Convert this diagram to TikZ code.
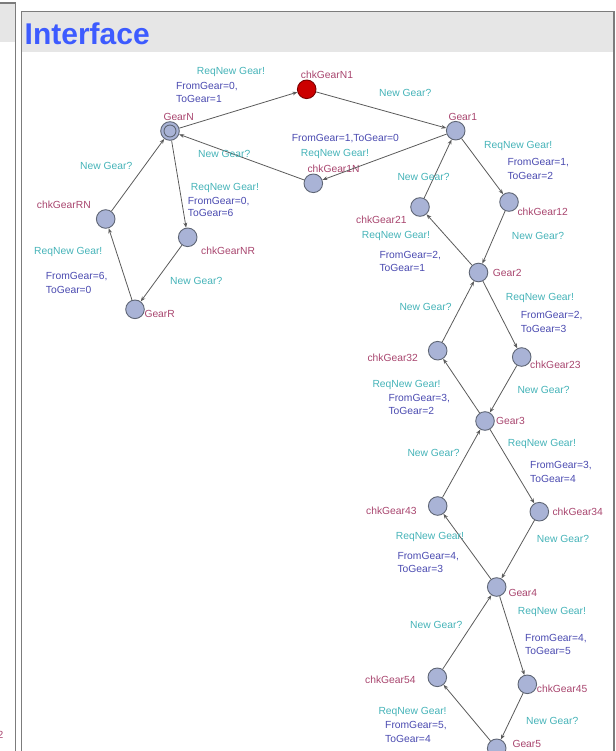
\documentclass[tikz,border=0pt]{standalone}
\usepackage{fontspec}
\setmainfont{Liberation Sans}
\usetikzlibrary{arrows.meta}

\definecolor{syncc}{HTML}{45B3B8}
\definecolor{assignc}{HTML}{4A4AB0}
\definecolor{namec}{HTML}{A8456E}
\definecolor{locfill}{HTML}{A9B3D6}
\definecolor{locdraw}{HTML}{5F6675}
\definecolor{hotfill}{HTML}{CC0000}
\definecolor{hotdraw}{HTML}{7A0000}
\definecolor{edgec}{HTML}{5A5A5A}
\definecolor{titlec}{HTML}{3D5BFF}
\definecolor{bandc}{HTML}{E6E6E6}
\definecolor{framec}{HTML}{7C7C7C}

\tikzset{
  loc/.style={circle, draw=locdraw, fill=locfill, line width=0.9pt,
              minimum size=18.6pt, inner sep=0pt},
  hotloc/.style={loc, draw=hotdraw, fill=hotfill},
  lblfont/.style={font=\fontsize{10.3}{12}\selectfont, inner sep=0pt, anchor=base west},
  synclbl/.style={lblfont, text=syncc},
  assignlbl/.style={lblfont, text=assignc},
  namelbl/.style={lblfont, text=namec},
  edge/.style={draw=edgec, line width=0.8pt, -{Stealth[length=5pt,width=3.8pt]}},
}

\begin{document}
\begin{tikzpicture}[x=1pt, y=-1pt]
\useasboundingbox (0,0) rectangle (615,751);

% panel frames and title band
\fill[bandc] (0,3) rectangle (15.5,42);
\draw[framec, line width=1.5pt] (0,3) -- (15.5,3) -- (15.5,760);
\fill[bandc] (21.5,11.5) rectangle (614,52);
\draw[framec, line width=1.5pt] (21.5,760) -- (21.5,11.5) -- (614,11.5) -- (614,760);
\node[font=\fontsize{30}{34}\selectfont\bfseries, text=titlec, inner sep=0pt,
      anchor=base west] (title) at (24.5,45) {Interface};
\node[namelbl, anchor=base east] (pagenum) at (3.5,738) {2};

% locations
\node[loc] (GearN) at (170,131) {};
\node[circle, draw=locdraw, line width=0.9pt, minimum size=12pt, inner sep=0pt]
  (GearNinit) at (GearN.center) {};
\node[hotloc] (chkGearN1) at (306.7,89.3) {};
\node[loc] (Gear1) at (455.7,130.7) {};
\node[loc] (chkGear1N) at (313.3,183.3) {};
\node[loc] (chkGearRN) at (105.7,219) {};
\node[loc] (chkGearNR) at (187.7,237.3) {};
\node[loc] (GearR) at (135,309.3) {};
\node[loc] (chkGear21) at (420,207) {};
\node[loc] (chkGear12) at (509,202) {};
\node[loc] (Gear2) at (478.5,272.5) {};
\node[loc] (chkGear32) at (437.7,350.7) {};
\node[loc] (chkGear23) at (521.7,357) {};
\node[loc] (Gear3) at (485,421) {};
\node[loc] (chkGear43) at (437.7,506) {};
\node[loc] (chkGear34) at (539.3,511.7) {};
\node[loc] (Gear4) at (496.7,587) {};
\node[loc] (chkGear54) at (437.3,677.3) {};
\node[loc] (chkGear45) at (527.3,684.3) {};
\node[loc] (Gear5) at (496.7,748.3) {};

% location names
\node[namelbl] (nGearN) at (163.3,120.4) {GearN};
\node[namelbl] (nchkGearN1) at (300.7,78.7) {chkGearN1};
\node[namelbl] (nGear1) at (448.3,120.4) {Gear1};
\node[namelbl] (nchkGear1N) at (307.3,172.7) {chkGear1N};
\node[namelbl] (nchkGearRN) at (36.7,208.7) {chkGearRN};
\node[namelbl] (nchkGearNR) at (201,254.7) {chkGearNR};
\node[namelbl] (nGearR) at (144.3,317.7) {GearR};
\node[namelbl] (nchkGear21) at (356,223) {chkGear21};
\node[namelbl] (nchkGear12) at (517.3,215.4) {chkGear12};
\node[namelbl] (nGear2) at (492.7,276.4) {Gear2};
\node[namelbl] (nchkGear32) at (367.3,361.4) {chkGear32};
\node[namelbl] (nchkGear23) at (530,368.7) {chkGear23};
\node[namelbl] (nGear3) at (496,424.7) {Gear3};
\node[namelbl] (nchkGear43) at (366,514) {chkGear43};
\node[namelbl] (nchkGear34) at (552.3,515.4) {chkGear34};
\node[namelbl] (nGear4) at (508.3,596) {Gear4};
\node[namelbl] (nchkGear54) at (365,683) {chkGear54};
\node[namelbl] (nchkGear45) at (536.7,692.7) {chkGear45};
\node[namelbl] (nGear5) at (512.3,747) {Gear5};

% transitions
\draw[edge] (GearN) -- (chkGearN1);
\draw[edge] (chkGearN1) -- (Gear1);
\draw[edge] (Gear1) -- (chkGear1N);
\draw[edge] (chkGear1N) -- (GearN);
\draw[edge] (GearN) -- (chkGearNR);
\draw[edge] (chkGearNR) -- (GearR);
\draw[edge] (GearR) -- (chkGearRN);
\draw[edge] (chkGearRN) -- (GearN);

\draw[edge] (Gear1) -- (chkGear12);
\draw[edge] (chkGear12) -- (Gear2);
\draw[edge] (Gear2) -- (chkGear21);
\draw[edge] (chkGear21) -- (Gear1);

\draw[edge] (Gear2) -- (chkGear23);
\draw[edge] (chkGear23) -- (Gear3);
\draw[edge] (Gear3) -- (chkGear32);
\draw[edge] (chkGear32) -- (Gear2);

\draw[edge] (Gear3) -- (chkGear34);
\draw[edge] (chkGear34) -- (Gear4);
\draw[edge] (Gear4) -- (chkGear43);
\draw[edge] (chkGear43) -- (Gear3);

\draw[edge] (Gear4) -- (chkGear45);
\draw[edge] (chkGear45) -- (Gear5);
\draw[edge] (Gear5) -- (chkGear54);
\draw[edge] (chkGear54) -- (Gear4);

% transition labels: GearN <-> Gear1
\node[synclbl] (sN1) at (196.7,74.4) {ReqNew Gear!};
\node[assignlbl] (aN1a) at (176,89.4) {FromGear=0,};
\node[assignlbl] (aN1b) at (176,103) {ToGear=1};
\node[synclbl] (sN1g) at (379,96.4) {New Gear?};
\node[assignlbl] (a1N) at (291.7,141.4) {FromGear=1,ToGear=0};
\node[synclbl] (s1N) at (300.7,157) {ReqNew Gear!};
\node[synclbl] (s1Ng) at (198,157.7) {New Gear?};

% transition labels: GearN <-> GearR
\node[synclbl] (sRNg) at (80,169.7) {New Gear?};
\node[synclbl] (sNR) at (190.7,190.4) {ReqNew Gear!};
\node[assignlbl] (aNRa) at (187.7,204.4) {FromGear=0,};
\node[assignlbl] (aNRb) at (187.7,217) {ToGear=6};
\node[synclbl] (sRN) at (34,254.7) {ReqNew Gear!};
\node[assignlbl] (aRNa) at (45.7,279.4) {FromGear=6,};
\node[assignlbl] (aRNb) at (45.7,293) {ToGear=0};
\node[synclbl] (sNRg) at (170,284.4) {New Gear?};

% transition labels: Gear1 <-> Gear2
\node[synclbl] (s12) at (484,148.7) {ReqNew Gear!};
\node[assignlbl] (a12a) at (507.3,166) {FromGear=1,};
\node[assignlbl] (a12b) at (507.3,179.4) {ToGear=2};
\node[synclbl] (s12g) at (511.7,239.7) {New Gear?};
\node[synclbl] (s21) at (361.7,238.7) {ReqNew Gear!};
\node[assignlbl] (a21a) at (379.3,258.7) {FromGear=2,};
\node[assignlbl] (a21b) at (379.3,271.4) {ToGear=1};
\node[synclbl] (s21g) at (397.3,181) {New Gear?};

% transition labels: Gear2 <-> Gear3
\node[synclbl] (s23) at (505.7,300.4) {ReqNew Gear!};
\node[assignlbl] (a23a) at (520.7,318) {FromGear=2,};
\node[assignlbl] (a23b) at (520.7,332.7) {ToGear=3};
\node[synclbl] (s23g) at (517.3,393.7) {New Gear?};
\node[synclbl] (s32) at (372.3,387) {ReqNew Gear!};
\node[assignlbl] (a32a) at (388.3,401.4) {FromGear=3,};
\node[assignlbl] (a32b) at (388.3,414.7) {ToGear=2};
\node[synclbl] (s32g) at (399.3,310.4) {New Gear?};

% transition labels: Gear3 <-> Gear4
\node[synclbl] (s34) at (507.7,446) {ReqNew Gear!};
\node[assignlbl] (a34a) at (530,468.7) {FromGear=3,};
\node[assignlbl] (a34b) at (530,482) {ToGear=4};
\node[synclbl] (s34g) at (536.7,542) {New Gear?};
\node[synclbl] (s43) at (395.7,539.7) {ReqNew Gear!};
\node[assignlbl] (a43a) at (397.3,559.7) {FromGear=4,};
\node[assignlbl] (a43b) at (397.3,572) {ToGear=3};
\node[synclbl] (s43g) at (407.3,456) {New Gear?};

% transition labels: Gear4 <-> Gear5
\node[synclbl] (s45) at (517.7,614.4) {ReqNew Gear!};
\node[assignlbl] (a45a) at (525,641) {FromGear=4,};
\node[assignlbl] (a45b) at (525,654.4) {ToGear=5};
\node[synclbl] (s45g) at (526,724.7) {New Gear?};
\node[synclbl] (s54) at (378.3,714.4) {ReqNew Gear!};
\node[assignlbl] (a54a) at (385,728.7) {FromGear=5,};
\node[assignlbl] (a54b) at (385,742) {ToGear=4};
\node[synclbl] (s54g) at (410,628) {New Gear?};
\end{tikzpicture}
\end{document}
